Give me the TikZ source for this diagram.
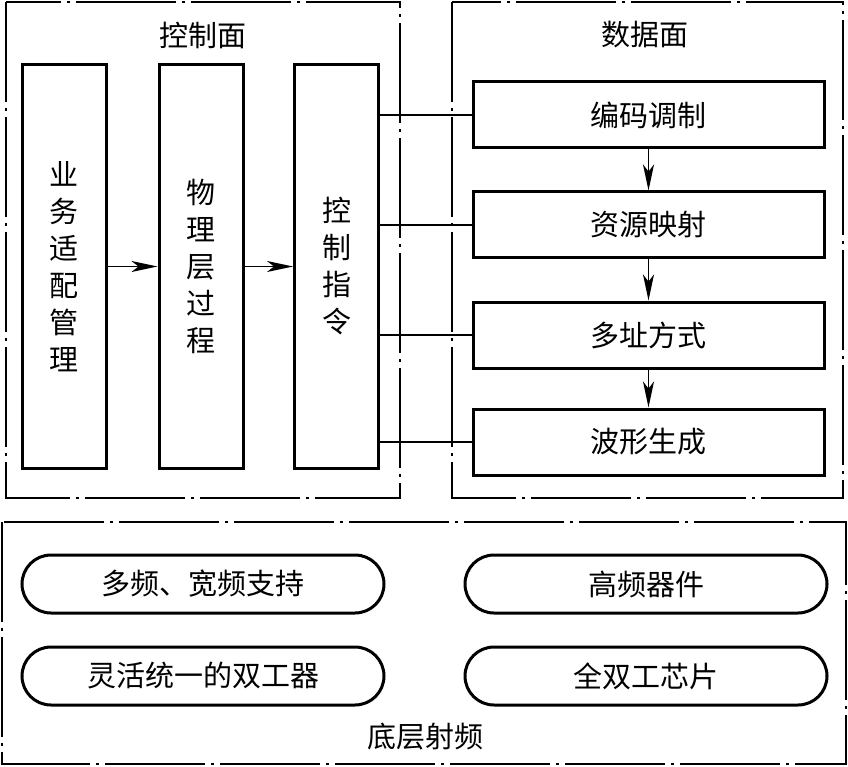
\documentclass[tikz,border=0pt]{standalone}
\usepackage{fontspec}
\newfontfamily\cjk{Noto Sans CJK SC}
\usetikzlibrary{arrows.meta}
\begin{document}
\begin{tikzpicture}[x=1pt,y=-1pt,
  txt/.style={font=\cjk\fontsize{29}{37}\selectfont},
  frame/.style={line width=2pt,dash pattern=on 100pt off 6pt on 3pt off 6pt},
  vbox/.style={draw,line width=3pt,minimum width=84pt,minimum height=403pt,inner sep=0pt,align=center,txt},
  dbox/.style={draw,line width=3pt,minimum width=351pt,minimum height=66pt,inner sep=0pt,txt},
  rbox/.style={draw,line width=3pt,rounded corners=29pt,minimum width=362pt,minimum height=58pt,inner sep=0pt,txt},
  conn/.style={line width=1.8pt},
  arr/.style={line width=1.8pt,-{Stealth[length=26pt,width=11pt,inset=7pt]}}]
\useasboundingbox (0,0) rectangle (848,767);
% frames
\draw[frame] (6,2) rectangle (400,498);
\draw[frame] (452,2) rectangle (843,498);
\draw[frame] (2,522) rectangle (846,764);
\node[txt] (tc) at (203,35) {控制面};
\node[txt] (td) at (645,35) {数据面};
% control plane
\node[vbox] (a) at (64,266.5) {业\\务\\适\\配\\管\\理};
\node[vbox] (b) at (201,266.5) {物\\理\\层\\过\\程};
\node[vbox] (c) at (336.5,266.5) {控\\制\\指\\令};
\draw[arr] (a.east) -- (b.west);
\draw[arr] (b.east) -- (c.west);
% data plane
\node[dbox] (d1) at (648.5,115) {编码调制};
\node[dbox] (d2) at (648.5,225) {资源映射};
\node[dbox] (d3) at (648.5,335) {多址方式};
\node[dbox] (d4) at (648.5,442) {波形生成};
\draw[arr] (d1.south) -- (d2.north);
\draw[arr] (d2.south) -- (d3.north);
\draw[arr] (d3.south) -- (d4.north);
\foreach \d in {d1,d2,d3,d4} \draw[conn] (c.east |- \d.west) -- (\d.west);
% bottom RF
\node[rbox] (r1) at (203,584) {多频、宽频支持};
\node[rbox] (r2) at (646,584) {高频器件};
\node[rbox] (r3) at (203,676) {灵活统一的双工器};
\node[rbox] (r4) at (646,676) {全双工芯片};
\node[txt] (tb) at (425,737) {底层射频};
\end{tikzpicture}
\end{document}
